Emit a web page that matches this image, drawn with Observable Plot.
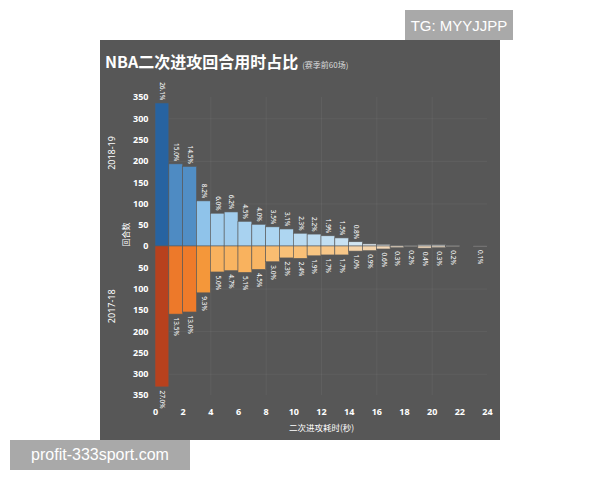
<!DOCTYPE html>
<html>
<head>
<meta charset="utf-8">
<script src="https://cdn.jsdelivr.net/npm/d3@7"></script>
<script src="https://cdn.jsdelivr.net/npm/@observablehq/plot@0.6"></script>
<style>
  html, body { margin: 0; padding: 0; background: #ffffff; }
  #page { position: relative; width: 600px; height: 480px; overflow: hidden; font-family: "Noto Sans CJK SC", "Noto Sans", sans-serif; }
  #panel { position: absolute; left: 100px; top: 40px; width: 400px; height: 400px; background: #575757; }
  #title { position: absolute; left: 5px; top: 9px; color: #ffffff; font-weight: bold; font-size: 16px; white-space: nowrap; }
  #title span { font-weight: normal; font-size: 8px; color: #dddddd; margin-left: 4px; }
  #chart { position: absolute; left: 0; top: 40px; }
  .wm { position: absolute; background: #a9a9a9; color: #ffffff; font-family: "Liberation Sans", "DejaVu Sans", sans-serif; display: flex; align-items: center; justify-content: center; }
</style>
</head>
<body>
<div id="page">
  <div id="panel">
    <div id="title">NBA二次进攻回合用时占比<span>(赛季前60场)</span></div>
    <div id="chart"></div>
  </div>
  <div class="wm" style="left:405px;top:10px;width:108px;height:30px;font-size:15px;">TG: MYYJJPP</div>
  <div class="wm" style="left:10px;top:440px;width:180px;height:30px;font-size:16px;">profit-333sport.com</div>
</div>
<script>
// Possession time bins (seconds), left edges
const seconds = [0,1,2,3,4,5,6,7,8,9,10,11,12,13,14,15,16,17,18,19,20,21,22,23];
// 2018-19 possessions per bin (above axis)
const counts1819 = [336,193,187,106,77,80,58,51,45,40,30,28,24,19,10,5,4,2,2,3,3,2,0,1];
const pct1819 = ["26.1%","15.0%","14.5%","8.2%","6.0%","6.2%","4.5%","4.0%","3.5%","3.1%","2.3%","2.2%","1.9%","1.5%","0.8%","","","","","","","","",""];
// 2017-18 possessions per bin (below axis)
const counts1718 = [331,160,155,110,61,58,62,55,37,28,29,23,21,21,12,11,7,4,2,5,4,2,0,1];
const pct1718 = ["27.0%","13.5%","13.0%","9.3%","5.0%","4.7%","5.1%","4.5%","3.0%","2.3%","2.4%","1.9%","1.7%","1.7%","1.0%","0.9%","0.6%","0.3%","0.2%","0.4%","0.3%","0.2%","","0.1%"];
const yTicks = [-350,-300,-250,-200,-150,-100,-50,0,50,100,150,200,250,300,350];
const xTicks = [0,2,4,6,8,10,12,14,16,18,20,22,24];
const seasonLabels = ["2018-19", "2017-18"];
const yAxisLabel = "回合数";
const xAxisLabel = "二次进攻耗时(秒)";

const rows = [];
seconds.forEach((s, i) => {
  rows.push({x1: s, x2: s + 1, v: counts1819[i], label: pct1819[i], up: true});
  rows.push({x1: s, x2: s + 1, v: -counts1718[i], label: pct1718[i], up: false});
});

const chart = Plot.plot({
  width: 400,
  height: 360,
  marginLeft: 55,
  marginRight: 13,
  marginTop: 17,
  marginBottom: 45,
  style: {background: "transparent", color: "#ffffff", fontFamily: "'Noto Sans', sans-serif"},
  x: {domain: [0, 24], axis: null, label: null},
  y: {domain: [-350, 350], axis: null, label: null},
  color: {
    type: "linear",
    domain: [-331, -155, -110, -60, -25, -5, 0, 10, 40, 80, 106, 190, 336],
    range: ["#b8411d", "#ef7b2a", "#f4973a", "#f9b35f", "#f9c27a", "#f3dcc0", "#eeeeee", "#d3e6f2", "#aed6f1", "#a1cdee", "#8fc3ea", "#4f8cc4", "#2763a1"]
  },
  marks: [
    Plot.ruleX([4, 8, 12, 16, 20], {stroke: "#ffffff", strokeOpacity: 0.05}),
    Plot.ruleY([-300, -200, -100, 100, 200, 300], {stroke: "#ffffff", strokeOpacity: 0.05}),
    Plot.rectY(rows, {x1: "x1", x2: "x2", y1: 0, y2: "v", fill: "v", stroke: "#5a5a5a", strokeWidth: 0.6}),
    Plot.text(rows.filter(d => d.up && d.label), {x: d => (d.x1 + d.x2) / 2, y: "v", text: "label", rotate: 90, textAnchor: "end", dy: -3, fontSize: 6.5, fill: "#ffffff"}),
    Plot.text(rows.filter(d => !d.up && d.label), {x: d => (d.x1 + d.x2) / 2, y: "v", text: "label", rotate: 90, textAnchor: "start", dy: 3, fontSize: 6.5, fill: "#ffffff"}),
    Plot.axisY(yTicks, {anchor: "left", tickSize: 0, tickPadding: 7, tickFormat: d => Math.abs(d), fontSize: 9, fontWeight: "bold", fill: "#ffffff", label: null}),
    Plot.axisX(xTicks, {anchor: "bottom", tickSize: 0, tickPadding: 13, fontSize: 9, fontWeight: "bold", fill: "#ffffff", label: null}),
    Plot.text([seasonLabels[0]], {frameAnchor: "left", y: 180, dx: -43, rotate: -90, fontSize: 9, fill: "#ffffff"}),
    Plot.text([seasonLabels[1]], {frameAnchor: "left", y: -180, dx: -43, rotate: -90, fontSize: 9, fill: "#ffffff"}),
    Plot.text([yAxisLabel], {frameAnchor: "left", y: 0, dx: -29, rotate: -90, fontSize: 8, fill: "#ffffff", fontFamily: "'Noto Sans CJK SC'"}),
    Plot.text([xAxisLabel], {frameAnchor: "bottom", dy: 35, fontSize: 8.5, fill: "#ffffff", fontFamily: "'Noto Sans CJK SC'"})
  ]
});
document.getElementById("chart").appendChild(chart);
</script>
</body>
</html>
